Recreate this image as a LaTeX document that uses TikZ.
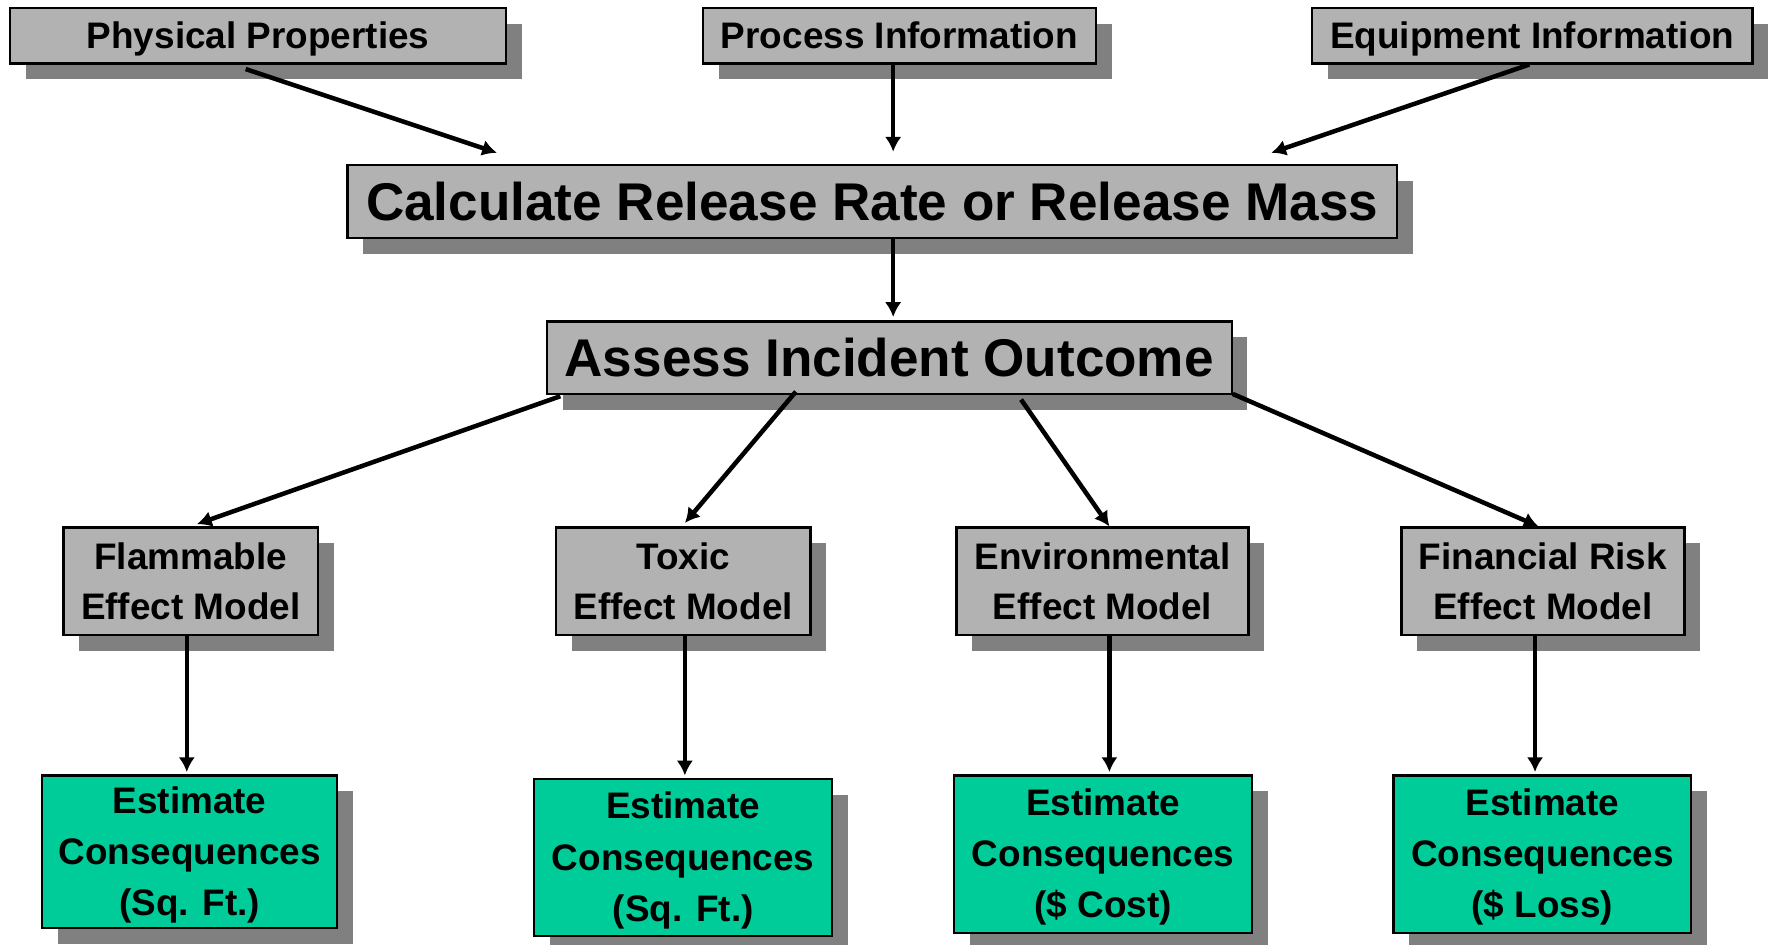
\documentclass[tikz,border=0pt]{standalone}
\usepackage{fontspec}
\setmainfont{Liberation Sans}
\usetikzlibrary{shadows,calc,arrows.meta}
\definecolor{boxgray}{RGB}{178,178,178}
\definecolor{shadowgray}{RGB}{128,128,128}
\definecolor{boxgreen}{RGB}{0,204,153}
% extra room above the first text line of the consequence boxes
\newcommand{\toproom}{\rule{0pt}{14.5pt}}
\begin{document}
\begin{tikzpicture}[x=0.5pt, y=-0.5pt,
  base/.style={draw=black, line width=1pt, inner sep=0pt, align=center,
    drop shadow={shadow xshift=7pt, shadow yshift=-7pt, fill=shadowgray, opacity=1, draw=none}},
  smallbox/.style={base, fill=boxgray, font=\fontsize{16.3}{22.5}\selectfont\bfseries},
  toprow/.style={smallbox, text height=11.7pt, text depth=0pt, minimum height=24.5pt},
  bigbox/.style={base, fill=boxgray, font=\fontsize{23.45}{28}\selectfont\bfseries,
    text height=16.8pt, text depth=0pt, minimum height=32pt},
  greenbox/.style={base, fill=boxgreen, font=\fontsize{16.3}{22.6}\selectfont\bfseries},
  link/.style={line width=2pt, -{Latex[length=6.5pt,width=7.2pt]}}]
\useasboundingbox (0,0) rectangle (1568,834);

% inputs
\node[toprow, minimum width=219pt] (pp) at (228,31.5) {Physical Properties};
\node[toprow, minimum width=173.5pt] (pi) at (794.5,31.5) {Process Information};
\node[toprow, minimum width=194.5pt] (ei) at (1353.5,31.5) {Equipment Information};

% main steps
\node[bigbox, minimum width=463.5pt] (calc) at (770.5,178) {Calculate Release Rate or Release Mass};
\node[bigbox, minimum width=302.5pt] (assess) at (785.5,316) {Assess Incident Outcome};

% effect models
\node[smallbox, minimum width=112.5pt, minimum height=47.5pt] (flam) at (168.5,513.5) {Flammable\\Effect Model};
\node[smallbox, minimum width=112.5pt, minimum height=47.5pt] (toxic) at (603.5,513.5) {Toxic\\Effect Model};
\node[smallbox, minimum width=129pt, minimum height=47.5pt] (env) at (974,513.5) {Environmental\\Effect Model};
\node[smallbox, minimum width=125pt, minimum height=47.5pt] (fin) at (1363,513.5) {Financial Risk\\Effect Model};

% consequences
\node[greenbox, minimum width=130.5pt, minimum height=67.5pt] (est1) at (167.5,752.5) {\toproom Estimate\\Consequences\\(Sq. Ft.)};
\node[greenbox, minimum width=131.5pt, minimum height=69.5pt] (est2) at (603.5,757.5) {\toproom Estimate\\Consequences\\(Sq. Ft.)};
\node[greenbox, minimum width=131.5pt, minimum height=69.5pt] (est3) at (974.5,754.5) {\toproom Estimate\\Consequences\\(\$ Cost)};
\node[greenbox, minimum width=131.5pt, minimum height=69.5pt] (est4) at (1362.5,754.5) {\toproom Estimate\\Consequences\\(\$ Loss)};

% connectors
\draw[link] ($(pp.south west)+(209,4)$) -- ($(calc.north west)+(133,-10)$);
\draw[link] ($(pi.south west)+(169,0)$) -- ($(calc.north west)+(483,-11)$);
\draw[link] ($(ei.south west)+(193,0)$) -- ($(calc.north west)+(817,-10)$);
\draw[link] ($(calc.south west)+(483,0)$) -- ($(assess.north west)+(307,-3)$);
\draw[link] ($(assess.south west)+(13,1)$) -- ($(flam.north west)+(119,-2)$);
\draw[link] ($(assess.south west)+(221,-3)$) -- ($(toxic.north west)+(115,-3)$);
\draw[link] ($(assess.south west)+(420,4)$) -- ($(env.north west)+(136,0)$);
\draw[link] ($(assess.south east)+(0,-1)$) -- ($(fin.north west)+(122,0)$);
\draw[link] ($(flam.south west)+(110,0)$) -- ($(est1.north west)+(129,-2)$);
\draw[link] ($(toxic.south west)+(115,0)$) -- ($(est2.north west)+(134,-2)$);
\draw[link] ($(env.south west)+(136,0)$) -- ($(est3.north west)+(138,-2)$);
\draw[link] ($(fin.south west)+(119,0)$) -- ($(est4.north west)+(126,-2)$);
\end{tikzpicture}
\end{document}
